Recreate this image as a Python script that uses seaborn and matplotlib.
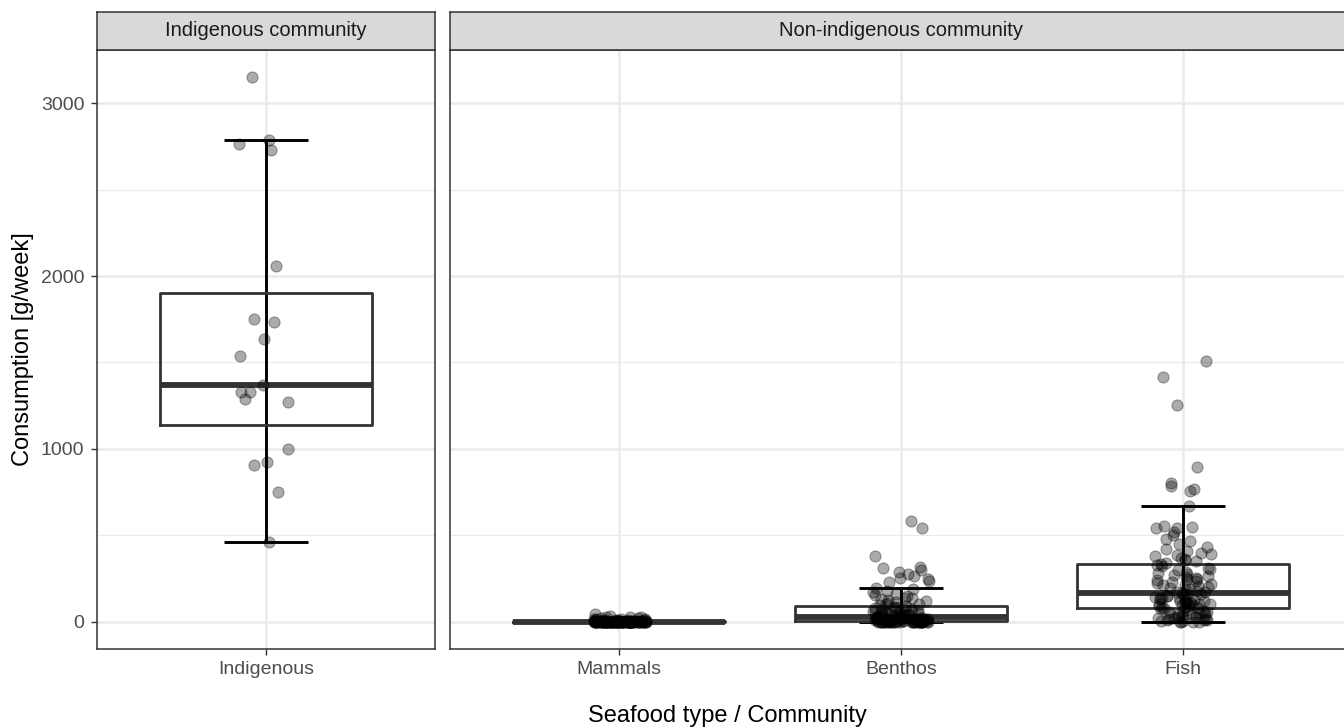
import numpy as np
import pandas as pd
import matplotlib
matplotlib.use("Agg")
import matplotlib.pyplot as plt
from matplotlib import cbook
from matplotlib.ticker import MultipleLocator, FixedLocator
import seaborn as sns

# ---------------- data ----------------
indigenous = [464, 751, 906, 926, 1001, 1270, 1290, 1328, 1328, 1367,
              1540, 1635, 1732, 1749, 2059, 2728, 2761, 2788, 3150]

mammals = ([0] * 70 + [1] * 10 + [2] * 10 + [3] +
           [3, 3, 3, 4, 4, 4, 5, 5, 5, 6, 6, 7, 7] +
           [8, 9, 10, 10, 12, 12, 14, 15, 16, 18, 20, 22, 25, 28, 30, 35, 46])

benthos = ([0] * 27 + [1, 1, 2] + [2] +
           [2, 3, 4, 5, 5, 6, 7, 8, 8, 9, 10, 10, 11, 12, 12, 13, 14, 15, 15, 16,
            17, 18, 18, 19, 20, 20, 21, 22, 23] + [25] +
           [27, 29, 30, 32, 34, 36, 38, 40, 42, 44, 46, 48, 50, 52, 54, 56, 58, 60,
            62, 64, 66, 68, 70, 72, 75, 78, 82, 85, 88] + [91] +
           [95, 100, 105, 110, 115, 120, 125, 130, 135, 140, 148, 155, 160, 170,
            180, 188, 197] +
           [229, 237, 245, 255, 266, 277, 289, 297, 312, 318, 382, 543, 584])

fish = ([0, 0, 0, 0, 2, 5, 8, 10, 12, 15, 18, 20, 22, 25, 28, 30, 33, 35, 38, 40,
         42, 45, 48, 50, 55, 58, 62, 65, 70, 75] + [79] +
        [82, 85, 88, 90, 93, 95, 98, 100, 103, 105, 108, 110, 113, 115, 118, 120,
         123, 125, 128, 130, 135, 138, 140, 145, 148, 150, 155, 158, 162] + [166] +
        [170, 175, 180, 185, 190, 195, 200, 205, 210, 215, 220, 225, 230, 235, 240,
         245, 250, 255, 260, 265, 270, 278, 285, 290, 298, 305, 312, 320, 328] + [333] +
        [340, 350, 355, 365, 370, 380, 385, 390, 400, 410, 420, 430, 450, 470, 480,
         500, 520, 540, 545, 550, 555, 672] +
        [759, 770, 788, 802, 898, 1254, 1418, 1510])

left_cats = ["Indigenous"]
right_cats = ["Mammals", "Benthos", "Fish"]
strip_labels = ["Indigenous community", "Non-indigenous community"]
x_title = "Seafood type / Community"
y_title = "Consumption [g/week]"
y_ticks = [0, 1000, 2000, 3000]

plt.rcParams['font.family'] = ['Liberation Sans', 'DejaVu Sans']

values = {"Indigenous": indigenous, "Mammals": mammals, "Benthos": benthos, "Fish": fish}
df_left = pd.DataFrame({"type": "Indigenous", "value": indigenous})
df_right = pd.concat([pd.DataFrame({"type": c, "value": values[c]}) for c in right_cats],
                     ignore_index=True)

all_vals = np.concatenate([np.asarray(v, float) for v in values.values()])
span = all_vals.max() - all_vals.min()
ylim = (all_vals.min() - 0.05 * span, all_vals.max() + 0.05 * span)

W, H = 1344, 728
fig = plt.figure(figsize=(W / 100, H / 100), dpi=100)
axL = fig.add_axes([97 / W, 79 / H, 338 / W, 599 / H])
axR = fig.add_axes([450 / W, 79 / H, 902 / W, 599 / H], sharey=axL)

np.random.seed(3)

GRID = "#EBEBEB"
DARK = "#333333"


def draw_panel(ax, df, cats):
    ax.set_facecolor("white")
    ax.set_axisbelow(True)
    # error-bar style whiskers (through the box)
    for i, c in enumerate(cats):
        st = cbook.boxplot_stats(np.asarray(values[c], float), whis=1.5)[0]
        ax.vlines(i, st["whislo"], st["whishi"], color="black", lw=2.1, zorder=2)
        ax.hlines([st["whislo"], st["whishi"]], i - 0.15, i + 0.15,
                  color="black", lw=2.1, zorder=2)
    sns.boxplot(data=df, x="type", y="value", order=cats, ax=ax, width=0.75,
                fill=False, color=DARK, linewidth=2.0, showfliers=False,
                showcaps=False, whis=1.5,
                whiskerprops={"linewidth": 0},
                medianprops={"linewidth": 4.2, "color": DARK},
                boxprops={"color": DARK})
    sns.stripplot(data=df, x="type", y="value", order=cats, ax=ax, color="black",
                  alpha=0.33, size=8, jitter=0.1, linewidth=0.8,
                  edgecolor="black", zorder=3)
    ax.set_xlim(-0.6, len(cats) - 0.4)
    ax.set_ylim(*ylim)
    ax.yaxis.set_major_locator(FixedLocator(y_ticks))
    ax.yaxis.set_minor_locator(MultipleLocator(500))
    ax.grid(True, which="major", color=GRID, lw=1.8)
    ax.grid(True, which="minor", axis="y", color=GRID, lw=0.9)
    ax.tick_params(which="minor", length=0)
    ax.tick_params(which="major", length=4.5, width=1.0, color=DARK,
                   labelcolor="#4D4D4D", labelsize=14, pad=4.5)
    for s in ax.spines.values():
        s.set_color(DARK)
        s.set_linewidth(1.1)
    ax.set_xlabel("")
    ax.set_ylabel("")


draw_panel(axL, df_left, left_cats)
draw_panel(axR, df_right, right_cats)
axR.tick_params(axis="y", left=False, labelleft=False, which="both")

# facet strips
for ax, lab in zip([axL, axR], strip_labels):
    pos = ax.get_position()
    sax = fig.add_axes([pos.x0, (H - 50) / H, pos.width, 38 / H])
    sax.set_facecolor("#D9D9D9")
    sax.set_xticks([])
    sax.set_yticks([])
    for s in sax.spines.values():
        s.set_color(DARK)
        s.set_linewidth(1.1)
    sax.text(0.5, 0.5, lab, transform=sax.transAxes, ha="center", va="center",
             fontsize=14.5, color="#1A1A1A")

fig.text(727 / W, (H - 716) / H, x_title, ha="center", va="center",
         fontsize=17, color="black")
fig.text(23 / W, 1 - 349.5 / H, y_title, ha="center", va="center",
         rotation=90, fontsize=17, color="black")

fig.savefig("out.png", dpi=100)
